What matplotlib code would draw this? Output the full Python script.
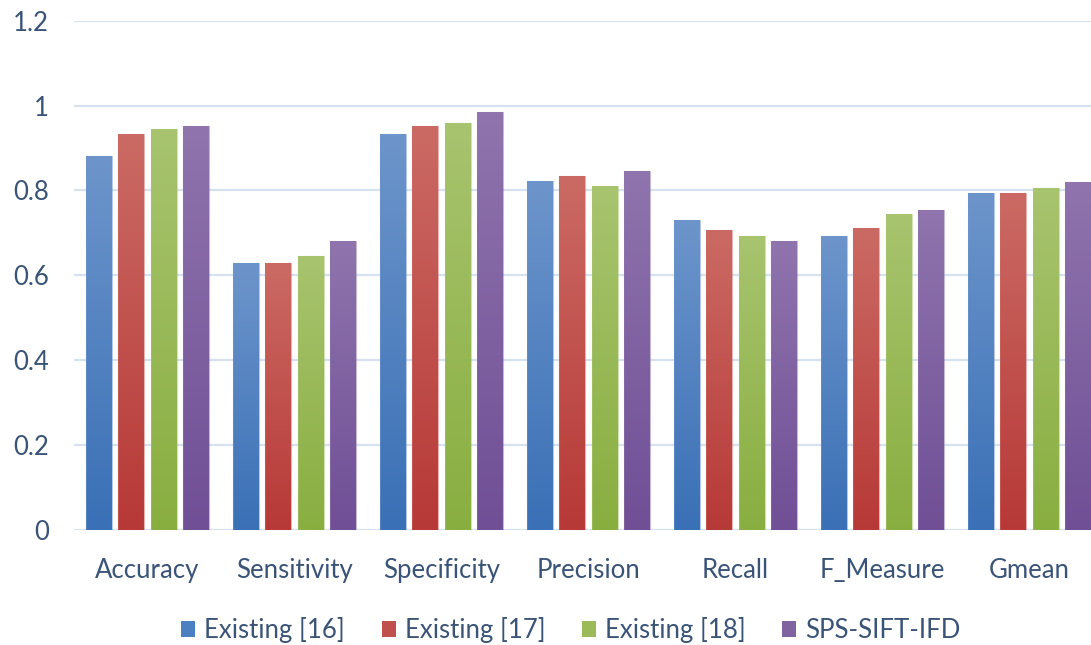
import numpy as np
import matplotlib
matplotlib.use('Agg')
from matplotlib import pyplot as plt
from matplotlib.patches import Patch
from matplotlib.colors import LinearSegmentedColormap

# metrics on the x axis
categories = ['Accuracy', 'Sensitivity', 'Specificity', 'Precision',
              'Recall', 'F_Measure', 'Gmean']
series_names = ['Existing [16]', 'Existing [17]', 'Existing [18]', 'SPS-SIFT-IFD']

existing_16 = [0.881, 0.630, 0.933, 0.823, 0.730, 0.692, 0.795]
existing_17 = [0.932, 0.630, 0.952, 0.833, 0.706, 0.711, 0.795]
existing_18 = [0.946, 0.645, 0.960, 0.810, 0.692, 0.744, 0.805]
sps_sift_ifd = [0.951, 0.682, 0.984, 0.847, 0.682, 0.753, 0.819]

yticks = [0, 0.2, 0.4, 0.6, 0.8, 1, 1.2]
ytick_labels = ['0', '0.2', '0.4', '0.6', '0.8', '1', '1.2']

# (top colour, bottom colour) of the vertical gradient in each bar
shades = [('#6d95cb', '#3a70b6'),
          ('#cb6a64', '#b73937'),
          ('#a8c46f', '#89ae40'),
          ('#8f74ad', '#704f96')]
legend_colors = ['#4a7fc1', '#c0504d', '#9bbb59', '#8064a2']

text_color = '#3a5478'
grid_color = '#d7e2f1'

plt.rcParams['font.family'] = ['Lato', 'DejaVu Sans']

fig = plt.figure(figsize=(10.91, 6.45), dpi=100)
ax = fig.add_axes([74 / 1091, 115 / 645, 1029 / 1091, 509.3 / 645])

all_series = [existing_16, existing_17, existing_18, sps_sift_ifd]
x = np.arange(len(categories))
pitch = 0.218
bar_w = pitch * 0.81

ax.set_xlim(-0.5, len(categories) - 0.5)
ax.set_ylim(0, 1.2)
ax.set_autoscale_on(False)

for i, (vals, (top, bottom)) in enumerate(zip(all_series, shades)):
    cmap = LinearSegmentedColormap.from_list('bar%d' % i, [bottom, top])
    grad = np.linspace(0, 1, 128).reshape(-1, 1)
    offs = (i - 1.5) * pitch
    bars = ax.bar(x + offs, vals, width=bar_w, color='none',
                  edgecolor='none', zorder=3)
    for rect, v in zip(bars, vals):
        x0 = rect.get_x()
        im = ax.imshow(grad, cmap=cmap, origin='lower', aspect='auto',
                       extent=[x0, x0 + bar_w, 0, v], zorder=3,
                       interpolation='bilinear')
        im.set_clip_path(rect)
        # thin light rim around each bar
        ax.bar(x0 + bar_w / 2, v, width=bar_w, color='none',
               edgecolor=top, linewidth=0.8, alpha=0.5, zorder=4)

ax.set_yticks(yticks)
ax.set_yticklabels(ytick_labels)
ax.set_xticks(x)
ax.set_xticklabels(categories)
ax.tick_params(axis='both', length=0, labelsize=18.5, labelcolor=text_color)
ax.tick_params(axis='y', pad=18)
ax.tick_params(axis='x', pad=20)

ax.yaxis.grid(True, color=grid_color, linewidth=1.6, zorder=0)
ax.set_axisbelow(True)
for side in ['top', 'right', 'left', 'bottom']:
    ax.spines[side].set_visible(False)

handles = [Patch(facecolor=c, edgecolor='none') for c in legend_colors]
leg = fig.legend(handles, series_names, loc='center', ncol=4,
                 bbox_to_anchor=(571 / 1091, 1 - 630 / 645), frameon=False,
                 fontsize=18.5, handlelength=0.55, handleheight=0.55,
                 handletextpad=0.35, columnspacing=1.42)
for t in leg.get_texts():
    t.set_color(text_color)

fig.savefig('out.png', dpi=100)
